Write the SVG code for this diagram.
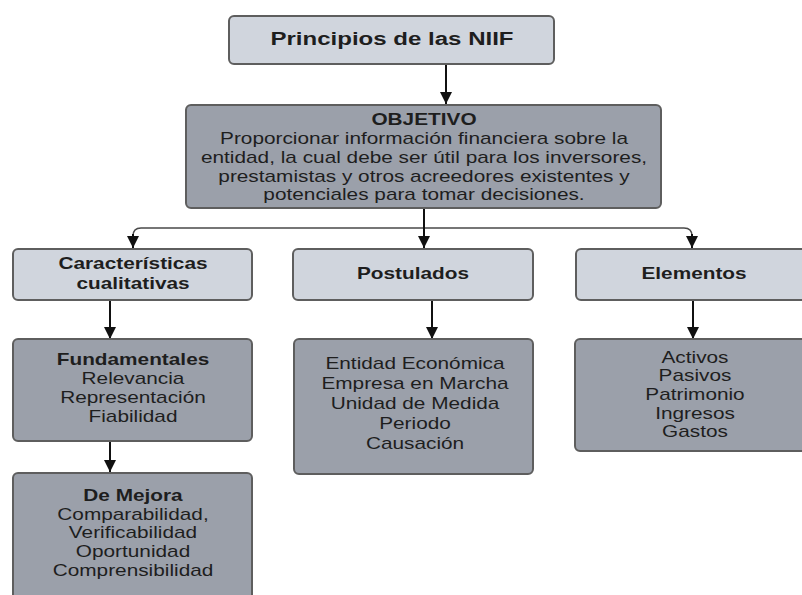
<svg xmlns="http://www.w3.org/2000/svg" width="802" height="595" viewBox="0 0 802 595">
<defs>
<style>
.light{fill:#d0d5dd;stroke:#5e5e5e;stroke-width:2}
.dark{fill:#9ba0aa;stroke:#5e5e5e;stroke-width:2}
text{font-family:"Liberation Sans",Arial,sans-serif;font-size:16px;fill:#1e1e1e;text-anchor:middle}
.b{font-weight:bold}
.title{font-size:18.5px;font-weight:bold}
.arr{stroke:#111;stroke-width:2;fill:none;marker-end:url(#ah)}
.hl{stroke:#4a4a4a;stroke-width:1.5;fill:none}
</style>
<marker id="ah" viewBox="0 0 12 12" refX="12" refY="6" markerWidth="13" markerHeight="12" markerUnits="userSpaceOnUse" orient="auto">
<path d="M0,0 L12,6 L0,12 Z" fill="#111"/>
</marker>
</defs>
<rect width="802" height="595" fill="#ffffff"/>
<g id="connectors">
<line class="arr" x1="446" y1="64" x2="446" y2="104"/>
<path class="hl" d="M133,236 Q133,228 141,228 L684,228 Q692,228 692,236"/>
<path class="arr" d="M133,234 L133,248"/>
<path class="arr" d="M692,234 L692,248"/>
<line class="arr" x1="424" y1="208" x2="424" y2="248"/>
<line class="arr" x1="110" y1="300" x2="110" y2="339"/>
<line class="arr" x1="432" y1="300" x2="432" y2="339"/>
<line class="arr" x1="693" y1="300" x2="693" y2="339"/>
<line class="arr" x1="110" y1="441" x2="110" y2="472"/>
</g>
<g id="principios">
<rect class="light" x="229" y="16" width="325" height="48" rx="5"/>
<text class="title" transform="translate(392,45) scale(1.3,1)">Principios de las NIIF</text>
</g>
<g id="objetivo">
<rect class="dark" x="186" y="105" width="475" height="103" rx="5"/>
<text class="b" transform="translate(424,125) scale(1.3,1)">OBJETIVO</text>
<text transform="translate(424,144) scale(1.3,1)">Proporcionar información financiera sobre la</text>
<text transform="translate(424,163) scale(1.3,1)">entidad, la cual debe ser útil para los inversores,</text>
<text transform="translate(424,182) scale(1.3,1)">prestamistas y otros acreedores existentes y</text>
<text transform="translate(424,200) scale(1.3,1)">potenciales para tomar decisiones.</text>
</g>
<g id="caracteristicas">
<rect class="light" x="13" y="249" width="239" height="51" rx="5"/>
<text class="b" transform="translate(133,269) scale(1.3,1)">Características</text>
<text class="b" transform="translate(133,289) scale(1.3,1)">cualitativas</text>
</g>
<g id="postulados">
<rect class="light" x="293" y="249" width="240" height="51" rx="5"/>
<text class="b" transform="translate(413,279) scale(1.3,1)">Postulados</text>
</g>
<g id="elementos">
<rect class="light" x="576" y="249" width="260" height="51" rx="5"/>
<text class="b" transform="translate(694,279) scale(1.3,1)">Elementos</text>
</g>
<g id="fundamentales">
<rect class="dark" x="13" y="339" width="239" height="102" rx="5"/>
<text class="b" transform="translate(133,365) scale(1.3,1)">Fundamentales</text>
<text transform="translate(133,384) scale(1.3,1)">Relevancia</text>
<text transform="translate(133,403) scale(1.3,1)">Representación</text>
<text transform="translate(133,422) scale(1.3,1)">Fiabilidad</text>
</g>
<g id="mejora">
<rect class="dark" x="13" y="473" width="239" height="140" rx="5"/>
<text class="b" transform="translate(133,501) scale(1.3,1)">De Mejora</text>
<text transform="translate(133,520) scale(1.3,1)">Comparabilidad,</text>
<text transform="translate(133,538) scale(1.3,1)">Verificabilidad</text>
<text transform="translate(133,557) scale(1.3,1)">Oportunidad</text>
<text transform="translate(133,576) scale(1.3,1)">Comprensibilidad</text>
</g>
<g id="postulados-lista">
<rect class="dark" x="294" y="339" width="239" height="135" rx="5"/>
<text transform="translate(415,369) scale(1.3,1)">Entidad Económica</text>
<text transform="translate(415,389) scale(1.3,1)">Empresa en Marcha</text>
<text transform="translate(415,409) scale(1.3,1)">Unidad de Medida</text>
<text transform="translate(415,429) scale(1.3,1)">Periodo</text>
<text transform="translate(415,449) scale(1.3,1)">Causación</text>
</g>
<g id="elementos-lista">
<rect class="dark" x="575" y="339" width="260" height="112" rx="5"/>
<text transform="translate(695,363) scale(1.3,1)">Activos</text>
<text transform="translate(695,381) scale(1.3,1)">Pasivos</text>
<text transform="translate(695,400) scale(1.3,1)">Patrimonio</text>
<text transform="translate(695,419) scale(1.3,1)">Ingresos</text>
<text transform="translate(695,437) scale(1.3,1)">Gastos</text>
</g>
</svg>
